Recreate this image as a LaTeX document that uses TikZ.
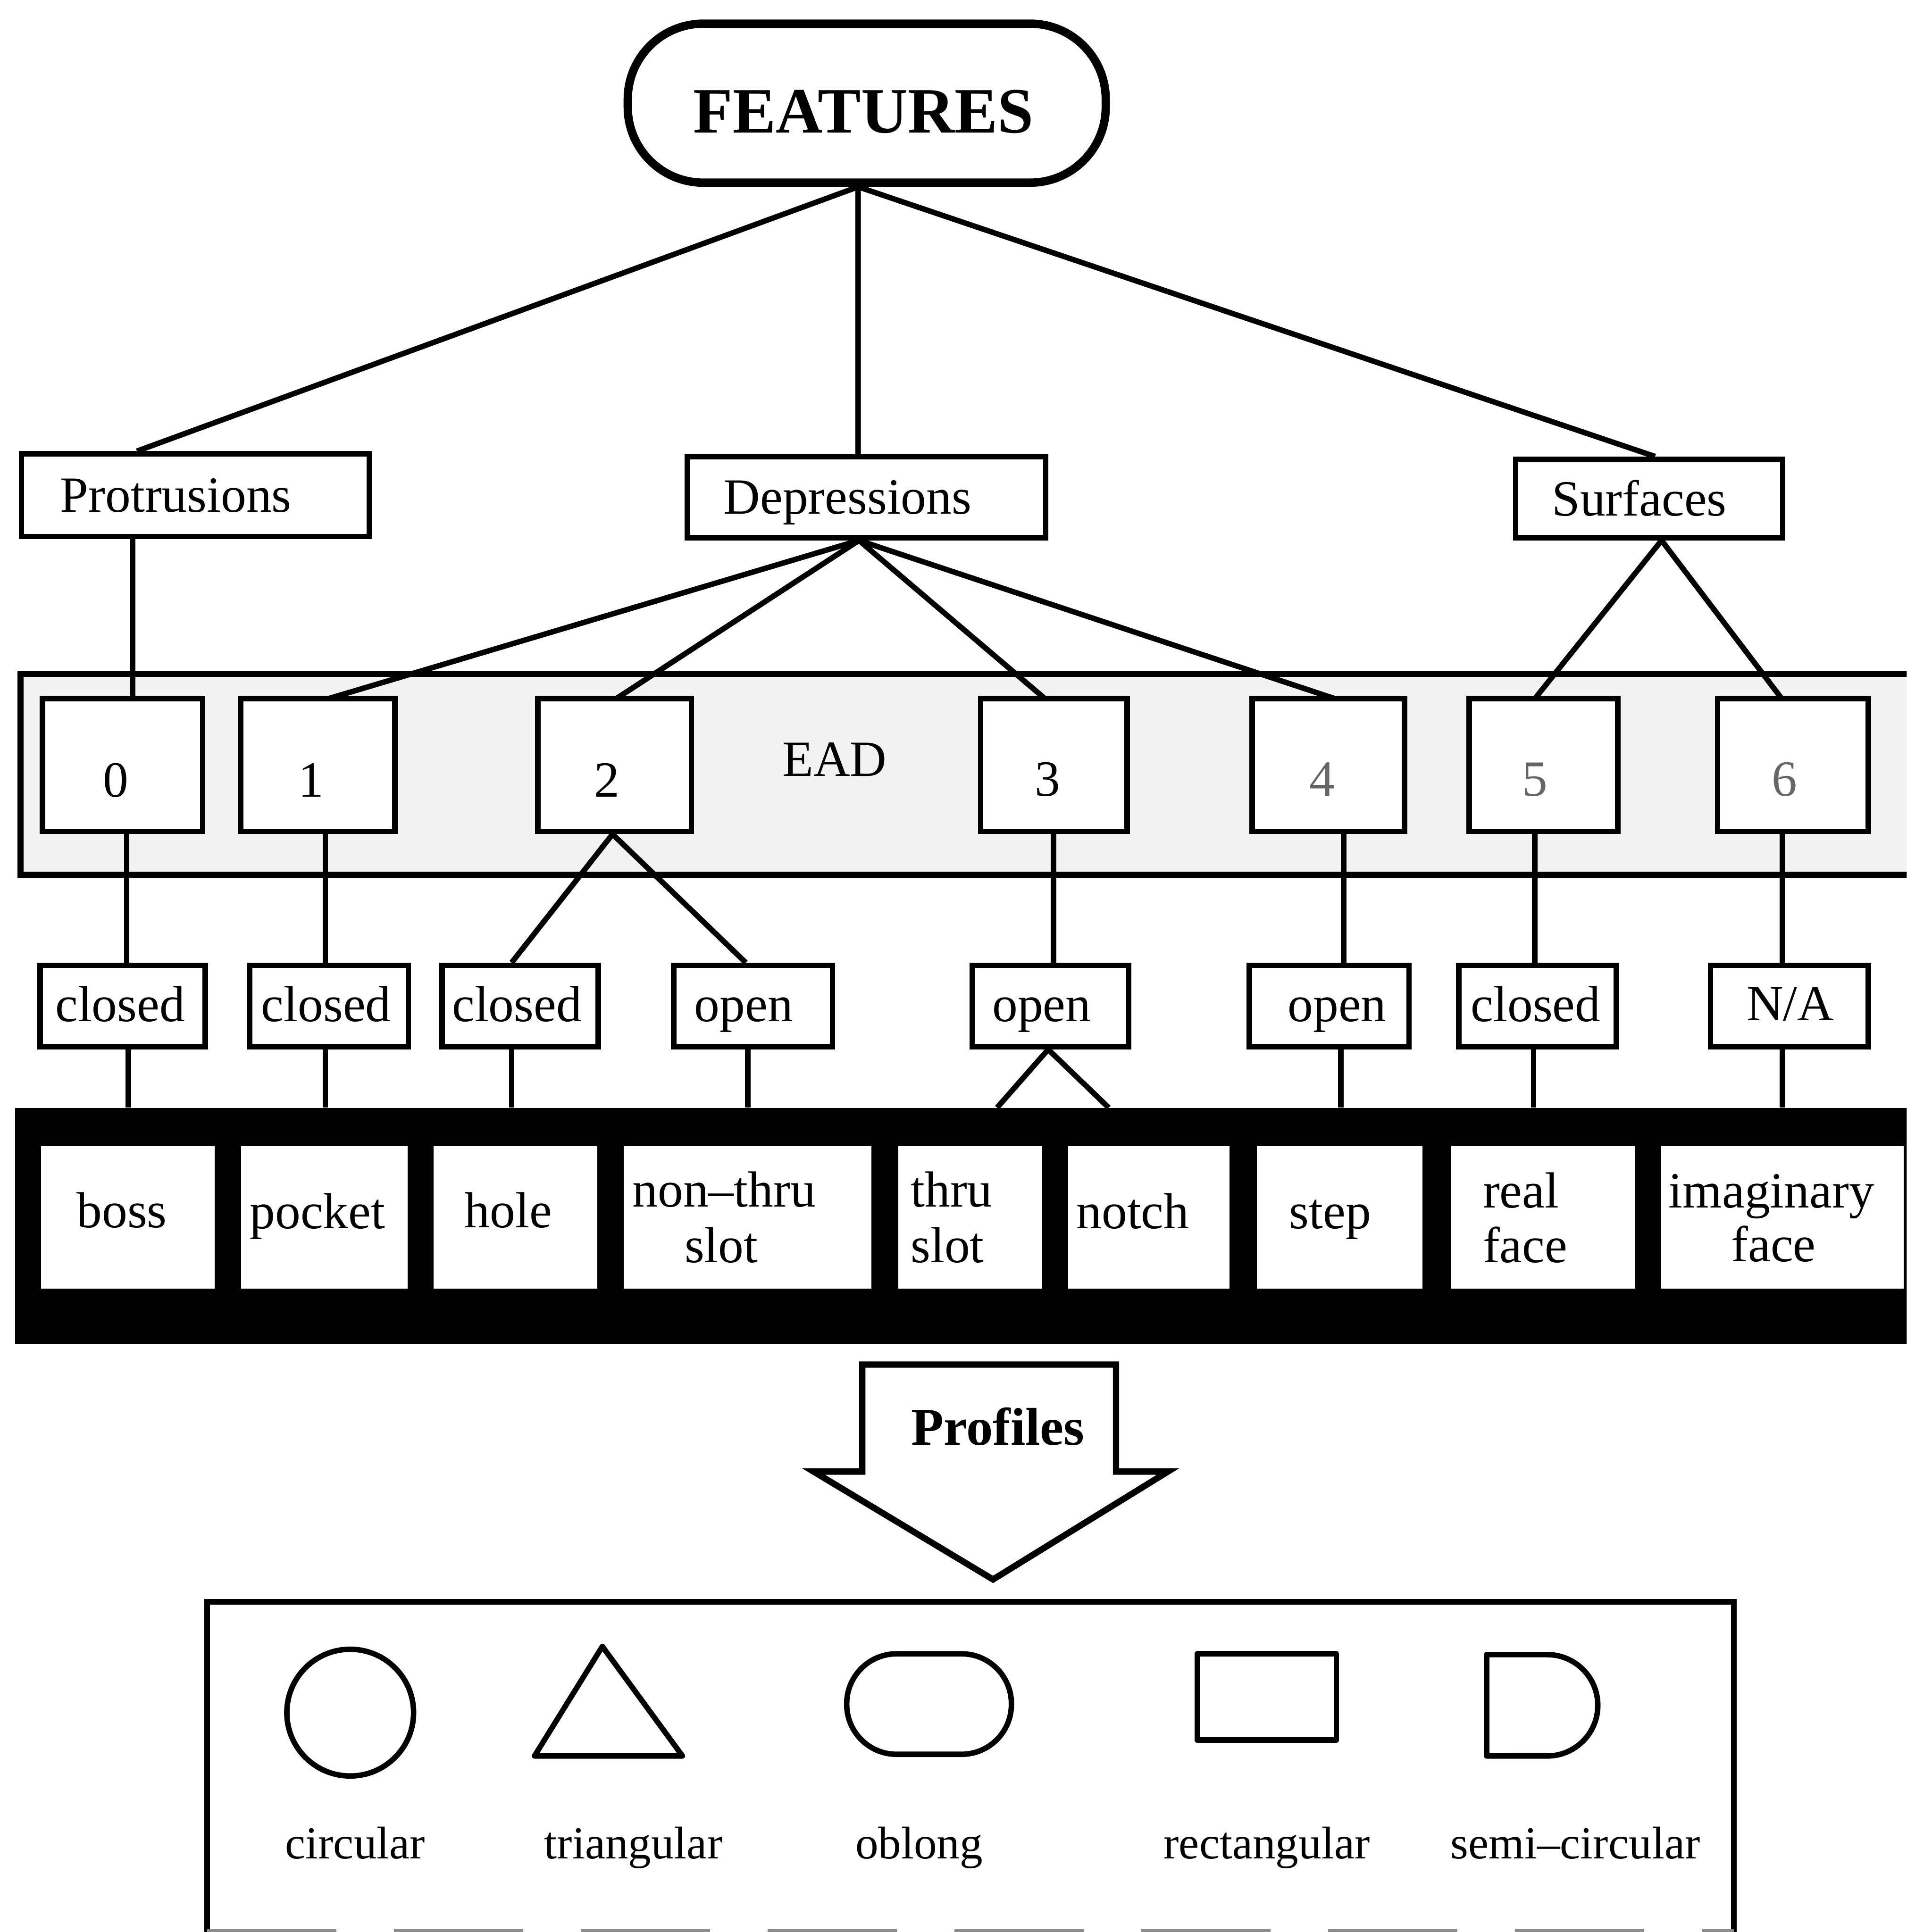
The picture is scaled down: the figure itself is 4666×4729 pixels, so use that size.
\documentclass[tikz,border=0pt]{standalone}
\usepackage{fontspec}
\setmainfont{Liberation Serif}
\begin{document}
\begin{tikzpicture}[x=0.01cm,y=-0.01cm,
  conn/.style={line width=3.8pt},
  box/.style={draw, rectangle, line width=3.8pt, fill=white, inner sep=0pt},
  numbox/.style={box, minimum height=3.25cm},
  rowbox/.style={box, minimum height=1.99cm},
  slotbox/.style={rectangle, fill=white, inner sep=0pt, minimum height=3.48cm},
  txt/.style={font=\fontsize{35.3}{40}\selectfont, inner sep=0pt, anchor=base},
  lab/.style={font=\fontsize{31.9}{36}\selectfont, inner sep=0pt, anchor=base},
  outline/.style={line width=3.8pt, line join=round}]

\useasboundingbox (0,0) rectangle (4666,4729);
\clip (0,0) rectangle (4666,4729);

% ---------- EAD band ----------
\node[draw, rectangle, line width=4.2pt, fill=black!5, inner sep=0pt,
      minimum width=46.68cm, minimum height=4.91cm] (ead) at (2386,1895.5) {};

% ---------- dark profile band ----------
\node[rectangle, fill=black, inner sep=0pt,
      minimum width=46.82cm, minimum height=5.77cm] (band) at (2379,3000.5) {};

% ---------- root ----------
\node[draw, rectangle, rounded corners=1.85cm, line width=5.8pt, fill=white, inner sep=0pt,
      minimum width=11.69cm, minimum height=3.89cm] (feat) at (2121,252.5) {};
\node[inner sep=0pt, anchor=base, font=\fontsize{45}{50}\selectfont\bfseries] (featt) at (2113,325) {FEATURES};

% ---------- first level ----------
\node[box, minimum width=8.51cm, minimum height=2.02cm] (prot) at (478.5,1212) {};
\node[box, minimum width=8.77cm, minimum height=1.98cm] (dep)  at (2120.5,1217) {};
\node[box, minimum width=6.53cm, minimum height=1.92cm] (surf) at (4035.5,1220) {};

\draw[conn] ([xshift=-0.21cm]feat.south) -- (prot.north -| 335,0);
\draw[conn] ([xshift=-0.21cm]feat.south) -- (dep.north -| 2100,0);
\draw[conn] ([xshift=-0.21cm]feat.south) -- (surf.north -| 4050,0);

\node[txt, anchor=base west] (prott) at (147,1253) {Protrusions};
\node[txt, anchor=base west] (dept)  at (1770,1258) {Depressions};
\node[txt, anchor=base west] (surft) at (3797,1262) {Surfaces};

\node[txt, anchor=base west] (eadt) at (1914,1900) {EAD};

% ---------- connectors into the EAD codes ----------
\draw[conn] (prot.south -| 325,0) -- (325,1710);
\draw[conn] (dep.south -| 2102,0) -- (804,1710);
\draw[conn] (dep.south -| 2102,0) -- (1508,1710);
\draw[conn] (dep.south -| 2102,0) -- (2557,1710);
\draw[conn] (dep.south -| 2102,0) -- (3266,1710);
\draw[conn] (surf.south -| 4066,0) -- (3756,1710);
\draw[conn] (surf.south -| 4066,0) -- (4360,1710);

% ---------- EAD code boxes ----------
\node[numbox, minimum width=3.92cm] (e0) at (300,1872.5) {};
\node[numbox, minimum width=3.77cm] (e1) at (777.5,1872.5) {};
\node[numbox, minimum width=3.76cm] (e2) at (1504,1872.5) {};
\node[numbox, minimum width=3.58cm] (e3) at (2579,1872.5) {};
\node[numbox, minimum width=3.73cm] (e4) at (3250.5,1872.5) {};
\node[numbox, minimum width=3.64cm] (e5) at (3777,1872.5) {};
\node[numbox, minimum width=3.69cm] (e6) at (4387.5,1872.5) {};

\node[txt] (e0t) at (283,1950) {0};
\node[txt] (e1t) at (761,1950) {1};
\node[txt] (e2t) at (1485,1950) {2};
\node[txt] (e3t) at (2564,1948) {3};
\node[txt, text=black!60] (e4t) at (3236,1948) {4};
\node[txt, text=black!60] (e5t) at (3756,1948) {5};
\node[txt, text=black!60] (e6t) at (4367,1948) {6};

% ---------- closed / open row ----------
\node[rowbox, minimum width=4.04cm] (rA) at (300,2462.5) {};
\node[rowbox, minimum width=3.88cm] (rB) at (805,2462.5) {};
\node[rowbox, minimum width=3.82cm] (rC) at (1273,2462.5) {};
\node[rowbox, minimum width=3.88cm] (rD) at (1843,2462.5) {};
\node[rowbox, minimum width=3.83cm] (rE) at (2570.5,2462.5) {};
\node[rowbox, minimum width=3.91cm] (rF) at (3252.5,2462.5) {};
\node[rowbox, minimum width=3.85cm] (rG) at (3762.5,2462.5) {};
\node[rowbox, minimum width=3.86cm] (rH) at (4379,2462.5) {};

\draw[conn] (e0.south -| 310,0) -- (rA.north -| 310,0);
\draw[conn] (e1.south -| 796,0) -- (rB.north -| 796,0);
\draw[conn] (e2.south -| 1499,0) -- (rC.north -| 1252,0);
\draw[conn] (e2.south -| 1499,0) -- (rD.north -| 1825,0);
\draw[conn] (e3.south -| 2578,0) -- (rE.north -| 2578,0);
\draw[conn] (e4.south -| 3288,0) -- (rF.north -| 3288,0);
\draw[conn] (e5.south -| 3756,0) -- (rG.north -| 3756,0);
\draw[conn] (e6.south -| 4361,0) -- (rH.north -| 4361,0);

\node[txt] (rAt) at (294,2500) {closed};
\node[txt] (rBt) at (798,2500) {closed};
\node[txt] (rCt) at (1265,2500) {closed};
\node[txt] (rDt) at (1820,2500) {open};
\node[txt] (rEt) at (2549,2500) {open};
\node[txt] (rFt) at (3272,2500) {open};
\node[txt] (rGt) at (3758,2500) {closed};
\node[txt] (rHt) at (4381,2498) {N/A};

% ---------- connectors into the feature band ----------
\draw[conn] (rA.south -| 314,0) -- (band.north -| 314,0);
\draw[conn] (rB.south -| 796,0) -- (band.north -| 796,0);
\draw[conn] (rC.south -| 1252,0) -- (band.north -| 1252,0);
\draw[conn] (rD.south -| 1830,0) -- (band.north -| 1830,0);
\draw[conn] (rE.south -| 2565,0) -- (band.north -| 2440,0);
\draw[conn] (rE.south -| 2565,0) -- (band.north -| 2713,0);
\draw[conn] (rF.south -| 3281,0) -- (band.north -| 3281,0);
\draw[conn] (rG.south -| 3753,0) -- (band.north -| 3753,0);
\draw[conn] (rH.south -| 4362,0) -- (band.north -| 4362,0);

% ---------- feature cells ----------
\node[slotbox, minimum width=4.25cm] (w1) at (312.5,2980) {};
\node[slotbox, minimum width=4.07cm] (w2) at (793.5,2980) {};
\node[slotbox, minimum width=4.01cm] (w3) at (1261.5,2980) {};
\node[slotbox, minimum width=6.05cm] (w4) at (1829.5,2980) {};
\node[slotbox, minimum width=3.51cm] (w5) at (2373.5,2980) {};
\node[slotbox, minimum width=3.95cm] (w6) at (2811.5,2980) {};
\node[slotbox, minimum width=4.05cm] (w7) at (3278.5,2980) {};
\node[slotbox, minimum width=4.51cm] (w8) at (3776.5,2980) {};
\node[slotbox, minimum width=5.93cm] (w9) at (4361.5,2980) {};

\node[txt] (w1t) at (298,3005) {boss};
\node[txt] (w2t) at (777,3007) {pocket};
\node[txt] (w3t) at (1244,3005) {hole};
\node[txt] (w4a) at (1772,2954) {non–thru};
\node[txt] (w4b) at (1765,3090) {slot};
\node[txt, anchor=base west] (w5a) at (2228,2954) {thru};
\node[txt, anchor=base west] (w5b) at (2228,3090) {slot};
\node[txt] (w6t) at (2772,3007) {notch};
\node[txt] (w7t) at (3255,3007) {step};
\node[txt, anchor=base west] (w8a) at (3628,2956) {real};
\node[txt, anchor=base west] (w8b) at (3628,3090) {face};
\node[txt] (w9a) at (4335,2956) {imaginary};
\node[txt] (w9b) at (4340,3088) {face};

% ---------- Profiles arrow ----------
\draw[line width=4.4pt, line join=miter, fill=white]
  (2110,3340) -- (2731,3340) -- (2731,3602) -- (2858,3602) -- (2430,3866)
  -- (1991,3602) -- (2110,3602) -- cycle;
\node[inner sep=0pt, anchor=base, font=\fontsize{37}{42}\selectfont\bfseries] (proft) at (2442,3537) {Profiles};

% ---------- profile catalogue ----------
\draw[line width=3.8pt] (507,4735) -- (507,3921) -- (4243,3921) -- (4243,4735);
\draw[line width=2pt, black!45, dash pattern=on 90pt off 40pt] (507,4725) -- (4243,4725);

\draw[outline] (857,4192) circle[radius=1.55cm];
\draw[outline] (1474,4030) -- (1670,4298) -- (1308,4298) -- cycle;
\draw[outline, rounded corners=1.22cm] (2072,4048) rectangle (2475,4294);
\draw[outline] (2930,4048) rectangle (3270,4259);
\draw[outline] (3638,4050) -- (3786,4050) arc[start angle=90, end angle=-90, radius=1.24cm] -- (3638,4298) -- cycle;

\node[lab] (l1) at (869,4549) {circular};
\node[lab] (l2) at (1550,4549) {triangular};
\node[lab] (l3) at (2249,4549) {oblong};
\node[lab] (l4) at (3100,4549) {rectangular};
\node[lab] (l5) at (3855,4549) {semi–circular};

\end{tikzpicture}
\end{document}
